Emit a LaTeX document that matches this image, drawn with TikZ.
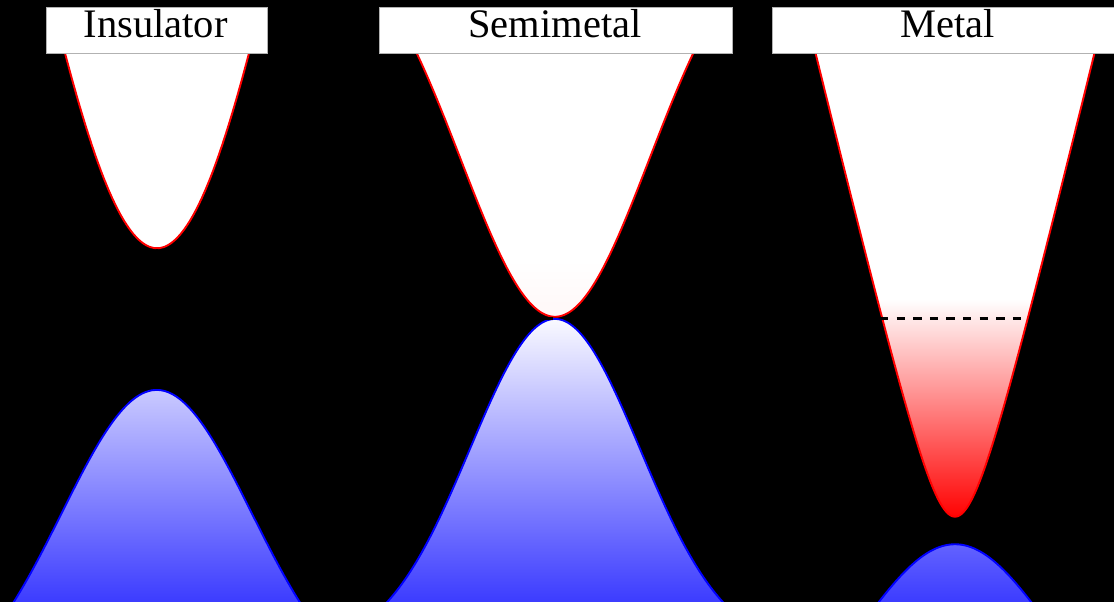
\documentclass[tikz,border=0pt]{standalone}
\usepackage{fontspec}
\setmainfont{Liberation Serif}
\definecolor{vbtop}{RGB}{252,252,255}
\definecolor{vbbot}{RGB}{60,60,255}
\begin{document}
\begin{tikzpicture}[x=1pt,y=-1pt,
  declare function={
    g(\u)=exp(-(\u)*(\u));
    inscb(\x)=248-1000*(1-g((\x-157)/197.5));
    semicb(\x)=316.7-400*(1-g((\x-555)/133.3));
    metcb(\x)=516.7-132*(sqrt(1+((\x-955)/31.7)*((\x-955)/31.7))-1);
    insvb(\x)=390+313*(1-g((\x-156.7)/134.4));
    semivb(\x)=319+330*(1-g((\x-555)/120.2));
    metvb(\x)=544.3+210*(1-g((\x-955)/134.4));
  },
  cbline/.style={draw=red,line width=1.9pt},
  vbline/.style={draw=blue,line width=1.9pt},
  labelbox/.style={draw=gray!60,fill=white,line width=0.6pt,inner sep=0pt},
  labeltext/.style={font=\fontsize{40.5}{48}\selectfont,text=black,inner sep=0pt,anchor=base},
  fermi/.style={draw=black,line width=3.5pt,dash pattern=on 8.3pt off 8.3pt}]
\useasboundingbox (0,0) rectangle (1114,602);
\fill[black] (0,0) rectangle (1114,602);
\clip (0,0) rectangle (1114,602);

% ---------- valence bands (global vertical gradient) ----------
\begin{scope}
  \clip plot[domain=4:310,samples=150] (\x,{insvb(\x)}) -- cycle;
  \shade[top color=vbtop,bottom color=vbbot] (0,315) rectangle (1114,602);
\end{scope}
\draw[vbline] plot[domain=4:310,samples=150] (\x,{insvb(\x)});

\begin{scope}
  \clip plot[domain=378:732,samples=150] (\x,{semivb(\x)}) -- cycle;
  \shade[top color=vbtop,bottom color=vbbot] (0,315) rectangle (1114,602);
\end{scope}
\draw[vbline] plot[domain=378:732,samples=150] (\x,{semivb(\x)});

\begin{scope}
  \clip plot[domain=868:1042,samples=100] (\x,{metvb(\x)}) -- cycle;
  \shade[top color=vbtop,bottom color=vbbot] (0,315) rectangle (1114,602);
\end{scope}
\draw[vbline] plot[domain=868:1042,samples=100] (\x,{metvb(\x)});

% ---------- conduction bands ----------
\fill[white] plot[domain=61:253,samples=150] (\x,{inscb(\x)}) -- cycle;
\draw[cbline] plot[domain=61:253,samples=150] (\x,{inscb(\x)});

\begin{scope}
  \clip plot[domain=410:700,samples=150] (\x,{semicb(\x)}) -- cycle;
  \fill[white] (380,0) rectangle (730,320);
  \shade[top color=white,bottom color=red!3] (380,260) rectangle (730,318);
\end{scope}
\draw[cbline] plot[domain=410:700,samples=150] (\x,{semicb(\x)});

\begin{scope}
  \clip plot[domain=812:1098,samples=200] (\x,{metcb(\x)}) -- cycle;
  \fill[white] (770,0) rectangle (1114,300);
  \shade[top color=white,bottom color=red] (770,299.5) rectangle (1114,519);
\end{scope}
\draw[cbline] plot[domain=812:1098,samples=200] (\x,{metcb(\x)});

% small mark at the touching point and Fermi level
\coordinate (touchL) at (545,318.5);
\coordinate (touchR) at (553,318.5);
\draw[black,line width=3pt] (touchL) -- (touchR);
\coordinate (fermiL) at (880,318.3);
\coordinate (fermiR) at (1032,318.3);
\draw[fermi] (fermiL) -- (fermiR);

% ---------- labels ----------
\node[labelbox,minimum width=221pt,minimum height=46pt] (insbox) at (156.5,30) {};
\node[labelbox,minimum width=353pt,minimum height=46pt] (semibox) at (555.5,30) {};
\node[labelbox,minimum width=350pt,minimum height=46pt] (metbox) at (947,30) {};
\node[labeltext] (instext) at (155.5,38) {Insulator};
\node[labeltext] (semitext) at (555,38) {Semimetal};
\node[labeltext] (mettext) at (947.5,38) {Metal};
\end{tikzpicture}
\end{document}
